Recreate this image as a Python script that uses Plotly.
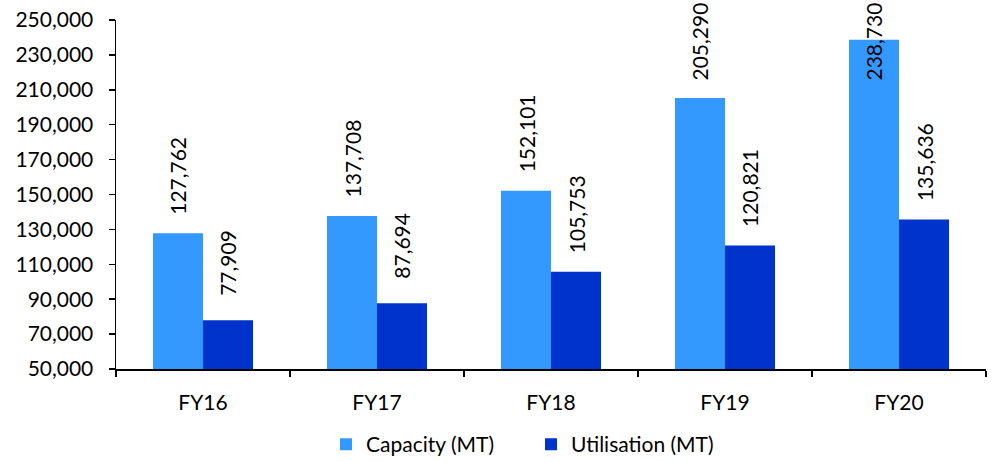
import plotly.graph_objects as go

categories = ["FY16", "FY17", "FY18", "FY19", "FY20"]
capacity = [127762, 137708, 152101, 205290, 238730]
utilisation = [77909, 87694, 105753, 120821, 135636]
series_names = ["Capacity (MT)", "Utilisation (MT)"]
tick_vals = list(range(50000, 250001, 20000))

COL_CAP = "#3399FF"
COL_UTL = "#0033CC"
FONT = "Lato"
FS = 21

W, H = 997, 462
ML, MR, MT, MB = 116, 11, 20, 93
YMIN, YMAX = 50000, 250000
plot_h = H - MT - MB
plot_w = W - ML - MR
upp = (YMAX - YMIN) / plot_h  # data units per pixel

fig = go.Figure()
fig.add_trace(go.Bar(x=categories, y=capacity, name=series_names[0],
                     marker=dict(color=COL_CAP, line=dict(width=0)), offsetgroup=0))
fig.add_trace(go.Bar(x=categories, y=utilisation, name=series_names[1],
                     marker=dict(color=COL_UTL, line=dict(width=0)), offsetgroup=1))

# rotated value labels above bars (kept inside the top edge of the figure)
GAP_PX = 19
LABEL_PX = 77
TOP_PX = 3
max_center = YMIN + (MT + plot_h - (TOP_PX + LABEL_PX / 2)) * upp
annotations = []
bar_w = 1 - 0.425
for si, vals in enumerate([capacity, utilisation]):
    for ci, v in enumerate(vals):
        center = v + (GAP_PX + LABEL_PX / 2) * upp
        center = min(center, max_center)
        xpos = ci - bar_w / 2 + bar_w / 4 + si * bar_w / 2
        annotations.append(dict(x=xpos, y=center, xref="x", yref="y",
                                text=f"{v:,}", showarrow=False, textangle=-90,
                                xanchor="center", yanchor="middle",
                                font=dict(family=FONT, size=FS, color="black")))

fig.update_layout(
    width=W, height=H,
    margin=dict(l=ML, r=MR, t=MT, b=MB, autoexpand=False),
    paper_bgcolor="white", plot_bgcolor="white",
    barmode="group", bargap=0.425, bargroupgap=0,
    font=dict(family=FONT, size=FS, color="black"),
    annotations=annotations,
    showlegend=True,
    hovermode=False,
    legend=dict(orientation="h", x=210 / plot_w, xanchor="left",
                y=-0.158, yanchor="top", font=dict(family=FONT, size=FS, color="black"),
                entrywidth=160, entrywidthmode="pixels", itemclick=False),
)
fig.update_xaxes(type="category", range=[-0.5, 4.5], showline=True, linecolor="black",
                 linewidth=1.5, ticks="outside", tickson="boundaries", ticklen=6,
                 tickcolor="black", tickwidth=1.5, showgrid=False, automargin=False,
                 ticklabelstandoff=14,
                 tickfont=dict(family=FONT, size=FS, color="black"))
fig.update_yaxes(range=[YMIN, YMAX], tickvals=tick_vals, tickformat=",",
                 showline=True, linecolor="black", linewidth=1.5, ticks="outside",
                 ticklen=6, tickcolor="black", tickwidth=1.5, showgrid=False,
                 zeroline=False, automargin=False, ticklabelstandoff=11,
                 ticklabeloverflow="allow",
                 tickfont=dict(family=FONT, size=FS, color="black"))

# remove the browser's default page margin so the figure fills the window exactly
fig.write_html("out.html",
               config={"displayModeBar": False, "staticPlot": True},
               post_script="document.body.style.margin='0';document.body.style.overflow='hidden';")
